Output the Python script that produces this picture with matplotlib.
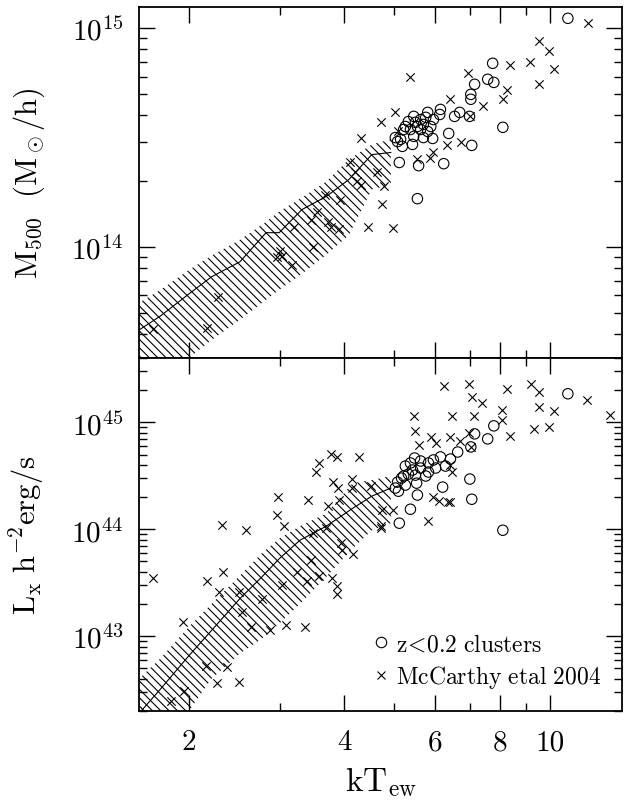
import numpy as np
import matplotlib
matplotlib.use("Agg")
import matplotlib.pyplot as plt
from matplotlib.ticker import FixedLocator, NullFormatter, LogLocator
from matplotlib.lines import Line2D

plt.rcParams['mathtext.fontset'] = 'cm'
plt.rcParams['font.family'] = 'serif'
plt.rcParams['font.serif'] = ['cmr10', 'DejaVu Serif']
plt.rcParams['axes.formatter.use_mathtext'] = True
plt.rcParams['hatch.linewidth'] = 0.8
plt.rcParams['hatch.color'] = 'black'

# ---- simulated band (kT, lower, median, upper) ----
band_kt = [1.60, 1.76, 2.00, 2.21, 2.51, 2.82, 2.99, 3.31, 3.69, 4.08, 4.52, 4.92]
m_lo = [0.245, 0.273, 0.31, 0.374, 0.463, 0.572, 0.635, 0.752, 0.919, 1.13, 1.83, 1.92]
m_med = [0.416, 0.482, 0.609, 0.728, 0.854, 1.16, 1.16, 1.48, 1.70, 2.03, 2.64, 2.70]
m_hi = [0.554, 0.635, 0.784, 0.91, 1.077, 1.30, 1.45, 1.68, 1.99, 2.51, 2.94, 3.10]

band_kt_l = [1.60, 1.76, 2.00, 2.21, 2.51, 2.77, 2.99, 3.28, 3.69, 4.15, 4.52, 4.92]
l_lo = [0.0071, 0.0109, 0.020, 0.040, 0.069, 0.095, 0.131, 0.20, 0.36, 0.66, 0.98, 1.14]
l_med = [0.019, 0.032, 0.066, 0.113, 0.225, 0.36, 0.53, 0.79, 1.07, 1.57, 2.04, 2.43]
l_hi = [0.040, 0.062, 0.123, 0.20, 0.37, 0.60, 0.82, 1.07, 1.41, 2.70, 2.88, 3.15]

# ---- z<0.2 clusters, mass panel (M500 in 1e14) ----
kt_circ_m = [10.84, 7.75, 7.58, 7.79, 7.15, 7.03, 7.03, 6.99, 8.11, 7.06, 6.69, 6.54,
             6.37, 6.14, 6.12, 5.80, 5.45, 5.62, 5.69, 5.88, 5.54, 5.37, 5.45, 5.21,
             5.14, 5.02, 5.07, 5.18, 5.42, 5.69, 5.93, 5.80, 5.95, 5.49, 5.25, 5.11,
             5.57, 6.23, 5.54, 5.75, 5.32, 5.62]
m_circ = [11.1, 6.91, 5.84, 5.65, 5.54, 4.98, 4.73, 3.95, 3.52, 2.91, 4.12, 3.95,
          3.30, 4.25, 4.03, 4.12, 3.95, 3.82, 3.63, 3.55, 3.55, 3.44, 3.20, 3.44,
          3.10, 3.16, 3.03, 2.88, 2.94, 3.16, 3.13, 3.37, 3.82, 3.71, 3.55, 2.43,
          2.35, 2.40, 1.66, 3.91, 3.74, 3.44]

# ---- McCarthy et al 2004, mass panel ----
kt_mc_m = [11.86, 9.96, 10.18, 9.52, 9.52, 8.36, 9.15, 8.25, 8.11, 6.93, 7.41, 6.99,
           6.42, 6.72, 6.31, 5.95, 5.85, 5.54, 5.35, 5.02, 4.70, 5.09, 4.78, 4.74,
           4.96, 4.45, 4.63, 4.30, 4.11, 4.20, 4.24, 4.30, 3.93, 3.67, 3.54, 3.44,
           3.71, 3.76, 3.91, 3.20, 3.47, 3.00, 3.03, 2.96, 3.16, 2.28, 2.17, 1.70]
m_mc = [10.54, 7.84, 6.49, 8.71, 5.54, 6.77, 6.98, 5.19, 4.73, 6.22, 4.39, 3.95,
        4.73, 3.03, 2.91, 2.70, 2.56, 2.51, 5.96, 4.12, 3.74, 3.37, 1.905, 1.575,
        1.222, 1.235, 2.21, 3.13, 2.45, 2.21, 1.99, 1.92, 1.64, 1.73, 1.45, 1.33,
        1.30, 1.235, 1.20, 1.235, 1.0, 0.959, 0.909, 0.90, 0.827, 0.590, 0.425, 0.421]

# ---- z<0.2 clusters, luminosity panel (Lx in 1e44) ----
kt_circ_l = [10.84, 7.79, 7.58, 7.15, 7.03, 6.63, 6.42, 6.14, 5.95, 5.82, 5.62, 5.47,
             5.37, 5.25, 5.42, 5.62, 5.82, 5.75, 5.49, 5.32, 5.16, 5.07, 5.02, 5.09,
             5.25, 5.52, 6.01, 7.00, 6.20, 7.06, 5.54, 5.37, 5.11, 8.11, 6.28, 5.21]
l_circ = [18.5, 9.27, 7.00, 7.80, 5.89, 5.28, 4.54, 4.75, 4.45, 4.17, 4.35, 4.64,
          4.17, 3.90, 3.58, 3.74, 3.43, 3.15, 3.21, 3.28, 3.01, 2.76, 2.43, 2.27,
          2.59, 2.70, 3.74, 2.95, 2.48, 1.91, 2.09, 1.54, 1.14, 0.98, 3.90, 3.15]

# ---- McCarthy et al 2004, luminosity panel ----
kt_mc_l = [6.25, 6.96, 7.06, 7.38, 8.25, 9.19, 9.52, 11.80, 13.08, 9.52, 10.18, 9.31,
           9.96, 8.36, 8.07, 8.07, 7.12, 6.45, 5.45, 5.47, 5.88, 6.40, 6.96, 6.69,
           5.57, 6.01, 6.42, 6.45, 5.93, 6.09, 6.34, 6.42, 5.82, 4.74, 4.96, 4.70,
           7.03,
           2.318, 2.580, 2.978, 2.96, 3.058, 3.405, 3.528, 3.576, 3.774, 3.876, 4.276,
           3.808, 3.894, 4.146, 4.146, 4.512, 3.71, 3.91, 4.718, 3.946, 3.964, 4.164,
           3.47, 1.70, 2.17, 2.328, 2.288, 2.502, 2.772, 3.03, 3.390, 3.576, 3.790,
           3.876, 3.876, 2.535, 2.638, 2.874, 3.086, 3.360, 1.947, 2.370, 2.158,
           2.267, 2.502, 1.956, 1.845, 3.242, 3.44, 3.69]
l_mc = [22.0, 23.0, 17.4, 15.2, 20.6, 23.0, 19.3, 16.3, 11.8, 14.0, 12.8, 8.69,
        9.07, 7.47, 13.1, 10.6, 11.5, 11.5, 11.5, 8.32, 7.31, 7.31, 7.97, 6.70,
        6.15, 6.42, 3.99, 3.43, 2.00, 1.83, 1.79, 1.79, 1.19, 1.51, 1.51, 1.07,
        5.89,
        1.09, 0.98, 2.00, 1.35, 1.07, 1.87, 3.43, 4.17, 5.06, 4.75, 4.75,
        2.76, 2.43, 2.95, 2.43, 2.53, 1.64, 1.87, 1.02, 0.739, 0.635, 0.582,
        0.917, 0.354, 0.332, 0.395, 0.262, 0.262, 0.225, 0.304, 0.332, 0.362, 0.347,
        0.298, 0.251, 0.170, 0.123, 0.115, 0.128, 0.123, 0.137, 0.0517, 0.0528,
        0.0366, 0.0374, 0.0308, 0.0248, 0.403, 0.512, 1.02]

x_major = [2, 4, 6, 8, 10]
x_minor = [3, 5, 7, 9]
x_labels = ['2', '4', '6', '8', '10']


def style_axis(ax):
    ax.set_xscale('log')
    ax.set_yscale('log')
    ax.set_xlim(1.6, 13.8)
    ax.xaxis.set_major_locator(FixedLocator(x_major))
    ax.xaxis.set_minor_locator(FixedLocator(x_minor))
    ax.xaxis.set_minor_formatter(NullFormatter())
    ax.yaxis.set_minor_locator(LogLocator(base=10, subs=np.arange(2, 10)))
    ax.yaxis.set_minor_formatter(NullFormatter())
    ax.tick_params(which='both', direction='in', top=True, right=True, width=1.0)
    ax.tick_params(which='major', length=11.5)
    ax.tick_params(which='minor', length=6)
    ax.tick_params(axis='y', which='major', labelsize=21, pad=11)
    ax.tick_params(axis='x', which='major', labelsize=21, pad=13)
    for s in ax.spines.values():
        s.set_linewidth(1.3)


def draw_panel(ax, bkt, lo, med, hi, kc, vc, km, vm):
    ax.fill_between(bkt, lo, hi, facecolor='none', edgecolor='black',
                    hatch='\\\\\\\\', linewidth=0)
    ax.plot(bkt, med, color='black', lw=0.8)
    ax.scatter(km, vm, marker='x', s=36, color='black', linewidths=0.8)
    ax.scatter(kc, vc, marker='o', s=56, facecolors='none', edgecolors='black',
               linewidths=0.8)


fig = plt.figure(figsize=(6.25, 8.03), dpi=100)
ax1 = fig.add_axes([0.2224, 0.5530, 0.7728, 0.4370])
ax2 = fig.add_axes([0.2224, 0.1133, 0.7728, 0.4397])

draw_panel(ax1, band_kt, np.array(m_lo) * 1e14, np.array(m_med) * 1e14, np.array(m_hi) * 1e14,
           kt_circ_m, np.array(m_circ) * 1e14, kt_mc_m, np.array(m_mc) * 1e14)
draw_panel(ax2, band_kt_l, np.array(l_lo) * 1e44, np.array(l_med) * 1e44, np.array(l_hi) * 1e44,
           kt_circ_l, np.array(l_circ) * 1e44, kt_mc_l, np.array(l_mc) * 1e44)

for ax in (ax1, ax2):
    style_axis(ax)

ax1.set_ylim(3.1e13, 1.25e15)
ax2.set_ylim(2e42, 4e45)
ax1.tick_params(axis='x', which='both', labelbottom=False)
ax2.set_xticklabels(x_labels)

ax1.set_ylabel(r'$\mathrm{M_{500}\ \ (M_\odot/h)}$', fontsize=22)
ax2.set_ylabel(r'$\mathrm{L_x\ h^{-2}erg/s}$', fontsize=22)
ax1.yaxis.set_label_coords(-0.19, 0.5)
ax2.yaxis.set_label_coords(-0.19, 0.5)
ax2.set_xlabel(r'$\mathrm{kT_{ew}}$', fontsize=24)
ax2.xaxis.set_label_coords(0.5, -0.15)

handles = [Line2D([], [], marker='o', ls='none', mfc='none', mec='black', ms=7.5, mew=0.8),
           Line2D([], [], marker='x', ls='none', color='black', ms=5.5, mew=0.8)]
ax2.legend(handles, [r'$\mathrm{z\!<\!0.2\ clusters}$', r'$\mathrm{McCarthy\ etal\ 2004}$'],
           loc='lower right', frameon=False, fontsize=17, handlelength=0.6,
           handletextpad=0.3, labelspacing=0.3, borderaxespad=0.5)

fig.savefig('out.png', dpi=100)
